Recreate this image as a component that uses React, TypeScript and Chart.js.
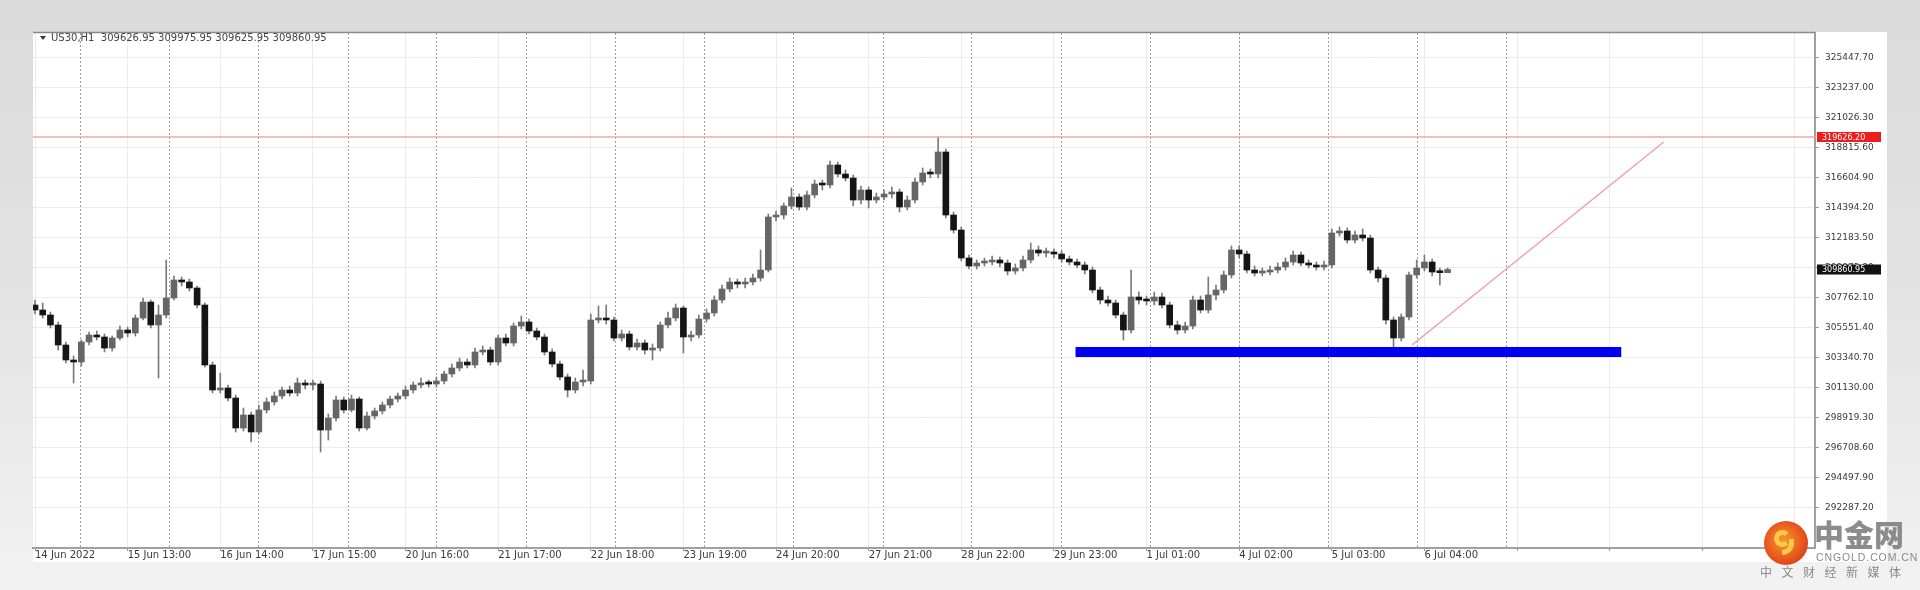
import React, { useEffect, useRef } from "react";
import { Chart, registerables } from "chart.js";

Chart.register(...registerables);

// ---------------- data ----------------
const SYMBOL = "US30,H1";

const X_LABELS = [
  "14 Jun 2022", "15 Jun 13:00", "16 Jun 14:00", "17 Jun 15:00", "20 Jun 16:00",
  "21 Jun 17:00", "22 Jun 18:00", "23 Jun 19:00", "24 Jun 20:00", "27 Jun 21:00",
  "28 Jun 22:00", "29 Jun 23:00", "1 Jul 01:00", "4 Jul 02:00", "5 Jul 03:00", "6 Jul 04:00",
];
const BARS_PER_LABEL = 12;
const X_GRID_COUNT = 20;
const X_MIN = -0.26;
const X_MAX = 230.6;

const Y_TICKS = [
  292287.2, 294497.9, 296708.6, 298919.3, 301130.0, 303340.7, 305551.4, 307762.1,
  309972.8, 312183.5, 314394.2, 316604.9, 318815.6, 321026.3, 323237.0, 325447.7,
];
const Y_MIN = 289339.6;
const Y_MAX = 327289.9;

// day separators (bar index units)
const SEPARATORS = [5.8, 17.4, 28.9, 40.5, 52.0, 63.6, 75.1, 86.7, 98.2, 109.8, 121.3, 132.9, 144.4, 156.0, 167.5, 179.1, 190.6];

const FIRST_OPEN = 307246.3;
const CLOSE = [
  306877.8, 306509.3, 305772.4, 304298.7, 303193.3, 303045.9, 304519.7, 305035.6, 304888.2, 304077.6,
  304814.5, 305404.0, 305182.9, 306288.3, 307467.3, 305772.4, 306509.4, 307762.1, 309088.5, 308941.1,
  308499.0, 307246.3, 302824.9, 300982.6, 301130.0, 300393.1, 298182.4, 299140.3, 297887.6, 299508.8,
  300098.3, 300540.5, 300982.6, 300761.5, 301498.4, 301351.1, 301424.7, 298035.0, 298919.3, 300245.7,
  299508.8, 300319.4, 298182.4, 299066.7, 299435.1, 299877.3, 300319.4, 300540.5, 300982.6, 301351.1,
  301498.4, 301424.7, 301645.8, 302161.6, 302603.8, 303045.9, 302824.9, 303782.8, 303930.2, 303045.9,
  304814.5, 304446.0, 305698.8, 305993.5, 305330.3, 304888.2, 303782.8, 302898.5, 301940.6, 300982.6,
  301572.1, 301645.8, 306140.9, 306288.3, 306140.9, 304814.5, 305109.2, 304151.3, 304446.0, 303930.2,
  304077.6, 305772.4, 306288.3, 307025.2, 304888.2, 305035.6, 306214.6, 306656.7, 307614.7, 308425.3,
  308941.1, 308793.7, 308941.1, 309235.9, 309825.4, 313731.0, 313878.3, 314541.6, 315204.8, 314467.9,
  315352.1, 316162.7, 316089.1, 317562.8, 316899.6, 316604.9, 314983.7, 315720.6, 314983.7, 315204.8,
  315425.8, 315573.2, 314467.9, 314983.7, 316310.1, 316973.3, 316899.6, 318520.8, 313878.3, 312773.0,
  310709.7, 310120.2, 310341.2, 310414.9, 310562.3, 310341.2, 309751.7, 309972.8, 310562.3, 311299.2,
  311078.1, 311151.8, 311004.4, 310636.0, 310414.9, 310193.9, 309825.4, 308351.6, 307614.7, 307393.6,
  306509.4, 305404.0, 307835.8, 307614.7, 307541.0, 307835.8, 307246.3, 305772.4, 305404.0, 305698.8,
  307614.7, 306877.8, 307983.1, 308351.6, 309457.0, 311299.2, 311004.4, 309825.4, 309604.3, 309678.0,
  309825.4, 310046.5, 310414.9, 310930.8, 310341.2, 310193.9, 310046.5, 310193.9, 312551.9, 312699.3,
  312036.1, 312404.6, 312183.5, 309825.4, 309235.9, 306140.9, 304814.5, 306362.0, 309457.0, 309972.8,
  310414.9, 309678.0, 309626.95, 309860.95,
];
const HIGH = [
  307614.7, 307393.6, 306730.4, 305993.5, 304519.7, 303488.1, 304667.1, 305256.6, 305330.3, 305109.2,
  304961.9, 305698.8, 305625.1, 306509.4, 307762.1, 307614.7, 307246.3, 310562.3, 309383.3, 309309.6,
  309162.2, 308646.4, 307393.6, 303045.9, 302235.3, 301351.1, 300614.2, 299656.2, 299361.4, 299877.3,
  300393.1, 300835.2, 301203.7, 301277.4, 301866.9, 301719.5, 301719.5, 301645.8, 299214.0, 300540.5,
  300466.8, 300614.2, 300466.8, 299361.4, 299656.2, 300098.3, 300540.5, 300761.5, 301277.4, 301572.1,
  301866.9, 301719.5, 301940.6, 302382.7, 302898.5, 303340.7, 303267.0, 304077.6, 304225.0, 304151.3,
  305035.6, 305109.2, 305919.8, 306435.7, 306214.6, 305551.4, 305109.2, 304003.9, 303119.6, 302161.6,
  301866.9, 302456.4, 306583.0, 307172.6, 307246.3, 306362.0, 305404.0, 305330.3, 304740.8, 304667.1,
  304372.3, 305993.5, 306730.4, 307319.9, 307172.6, 305330.3, 306509.4, 306951.5, 307909.5, 308720.1,
  309235.9, 309162.2, 309235.9, 309530.6, 311299.2, 313952.0, 314173.1, 314762.6, 315868.0, 315425.8,
  315646.9, 316457.5, 316457.5, 317857.6, 317783.9, 317194.4, 316826.0, 316015.4, 315941.7, 315499.5,
  315720.6, 315941.7, 315794.3, 315278.5, 316604.9, 317341.8, 317268.1, 319626.2, 318741.9, 314099.4,
  312994.1, 310930.8, 310562.3, 310709.7, 310857.1, 310783.4, 310562.3, 310267.5, 310857.1, 311815.0,
  311594.0, 311446.6, 311372.9, 311225.5, 310857.1, 310636.0, 310414.9, 310046.5, 308572.7, 307909.5,
  307614.7, 306730.4, 309825.4, 308204.2, 307909.5, 308204.2, 308130.5, 307467.3, 306067.2, 305993.5,
  307909.5, 307909.5, 309309.6, 308720.1, 309751.7, 311594.0, 311594.0, 311225.5, 310120.2, 309972.8,
  310120.2, 310341.2, 310709.7, 311225.5, 311151.8, 310562.3, 310414.9, 310488.6, 312846.7, 312994.1,
  312920.4, 312699.3, 312846.7, 312404.6, 310046.5, 309457.0, 306362.0, 306583.0, 309678.0, 310562.3,
  310930.8, 310636.0, 309972.8, 309975.95,
];
const LOW = [
  306583.0, 306288.3, 305551.4, 303930.2, 302972.2, 301498.4, 302751.2, 304298.7, 304667.1, 303782.8,
  303856.5, 304667.1, 304888.2, 304961.9, 306140.9, 305551.4, 301866.9, 306288.3, 307614.7, 308646.4,
  308277.9, 307025.2, 302677.5, 300761.5, 300761.5, 300172.0, 297887.6, 297961.3, 297150.7, 297740.2,
  299287.7, 299877.3, 300319.4, 300540.5, 300540.5, 301056.3, 300982.6, 296413.8, 297298.1, 298698.2,
  299287.7, 299361.4, 297961.3, 298035.0, 298845.6, 299214.0, 299656.2, 300098.3, 300319.4, 300761.5,
  301130.0, 301203.7, 301203.7, 301424.7, 301940.6, 302382.7, 302603.8, 302603.8, 303561.8, 302824.9,
  302824.9, 304225.0, 304225.0, 305477.7, 305109.2, 304667.1, 303561.8, 302677.5, 301719.5, 300466.8,
  300761.5, 301277.4, 301424.7, 305919.8, 305846.1, 304593.4, 304593.4, 303930.2, 303930.2, 303635.4,
  303193.3, 303856.5, 305551.4, 306067.2, 303709.1, 304593.4, 304814.5, 305993.5, 306435.7, 307393.6,
  308204.2, 308499.0, 308499.0, 308720.1, 309014.8, 309678.0, 313436.2, 313583.6, 314320.5, 314246.8,
  314246.8, 315131.1, 315720.6, 315868.0, 316678.6, 316383.8, 314541.6, 314688.9, 314394.2, 314762.6,
  314983.7, 315131.1, 314099.4, 314246.8, 314762.6, 316089.1, 316604.9, 316604.9, 313657.3, 312551.9,
  310488.6, 309899.1, 309899.1, 310120.2, 310193.9, 310046.5, 309457.0, 309530.6, 309751.7, 310341.2,
  310857.1, 310783.4, 310709.7, 310414.9, 310193.9, 309972.8, 309530.6, 308130.5, 307319.9, 307172.6,
  306288.3, 304667.1, 305182.9, 307319.9, 307246.3, 307246.3, 307025.2, 305551.4, 305109.2, 305182.9,
  305477.7, 306656.7, 306656.7, 307614.7, 308130.5, 309235.9, 310709.7, 309604.3, 309383.3, 309383.3,
  309457.0, 309604.3, 309825.4, 310193.9, 310120.2, 309972.8, 309825.4, 309825.4, 309972.8, 312330.9,
  311815.0, 311815.0, 311962.4, 309604.3, 308941.1, 305846.1, 304151.3, 304593.4, 306140.9, 309235.9,
  309751.7, 309383.3, 308720.1, 309625.95,
];

// drawn objects
const RESISTANCE = 319626.2;
const SUPPORT = 303782.8;
const SUPPORT_X = [134.8, 205.5];
const TREND_X = [178.4, 211.0];
const TREND_Y = [304298.7, 319257.7];

// ---------------- chart ----------------
const FONT = '"DejaVu Sans", "Liberation Sans", sans-serif';

const openOf = (i: number) => (i === 0 ? FIRST_OPEN : CLOSE[i - 1]);

const decorPlugin = {
  id: "mt4decor",
  beforeDatasetsDraw(chart: any) {
    const { ctx, chartArea: a, scales } = chart;
    const x = scales.x;
    ctx.save();
    ctx.strokeStyle = "#a0a0a0";
    ctx.lineWidth = 1;
    ctx.setLineDash([2, 2]);
    SEPARATORS.forEach((s) => {
      const px = Math.round(x.getPixelForValue(s)) + 0.5;
      ctx.beginPath();
      ctx.moveTo(px, a.top);
      ctx.lineTo(px, a.bottom);
      ctx.stroke();
    });
    ctx.restore();
  },
  afterDraw(chart: any) {
    const { ctx, chartArea: a, scales } = chart;
    const y = scales.y;
    ctx.save();
    // top frame line
    ctx.strokeStyle = "#8a8a8a";
    ctx.lineWidth = 1.5;
    ctx.beginPath();
    ctx.moveTo(a.left, a.top - 0.5);
    ctx.lineTo(a.right, a.top - 0.5);
    ctx.stroke();

    // price boxes on the axis
    const box = (v: number, bg: string) => {
      const py = y.getPixelForValue(v);
      ctx.fillStyle = bg;
      ctx.fillRect(a.right + 2, py - 5, 64, 10);
      ctx.fillStyle = "#ffffff";
      ctx.font = `8px ${FONT}`;
      ctx.textBaseline = "middle";
      ctx.textAlign = "left";
      ctx.fillText(v.toFixed(2), a.right + 7, py + 0.5);
    };
    box(RESISTANCE, "#ee1c1c");
    box(CLOSE[CLOSE.length - 1], "#111111");

    // header
    const n = CLOSE.length - 1;
    ctx.fillStyle = "#333";
    ctx.beginPath();
    ctx.moveTo(40, 36);
    ctx.lineTo(46, 36);
    ctx.lineTo(43, 40);
    ctx.closePath();
    ctx.fill();
    ctx.font = `10px ${FONT}`;
    ctx.textBaseline = "middle";
    ctx.textAlign = "left";
    ctx.fillStyle = "#444";
    ctx.fillText(
      `${SYMBOL}  ${openOf(n).toFixed(2)} ${HIGH[n].toFixed(2)} ${LOW[n].toFixed(2)} ${CLOSE[n].toFixed(2)}`,
      51,
      38
    );
    ctx.restore();
  },
};

function App() {
  const ref = useRef<HTMLCanvasElement | null>(null);

  useEffect(() => {
    if (!ref.current) return;
    const wicks = CLOSE.map((_, i) => ({ x: i, y: [LOW[i], HIGH[i]] }));
    const bodies = CLOSE.map((c, i) => ({ x: i, y: [openOf(i), c] }));
    const bodyColors = CLOSE.map((c, i) => (c >= openOf(i) ? "#666666" : "#151515"));

    const chart = new Chart(ref.current, {
      type: "bar",
      data: {
        datasets: [
          {
            type: "line",
            data: [
              { x: SUPPORT_X[0], y: SUPPORT },
              { x: SUPPORT_X[1], y: SUPPORT },
            ],
            borderColor: "#0000f5",
            borderWidth: 10,
            borderCapStyle: "butt",
            pointRadius: 0,
            order: 0,
          } as any,
          {
            type: "line",
            data: [
              { x: TREND_X[0], y: TREND_Y[0] },
              { x: TREND_X[1], y: TREND_Y[1] },
            ],
            borderColor: "#f3a0a0",
            borderWidth: 1.5,
            pointRadius: 0,
            order: 1,
          } as any,
          {
            type: "line",
            data: [
              { x: X_MIN, y: RESISTANCE },
              { x: X_MAX, y: RESISTANCE },
            ],
            borderColor: "#f5a5a5",
            borderWidth: 1.5,
            pointRadius: 0,
            order: 1,
          } as any,
          {
            type: "bar",
            data: bodies,
            backgroundColor: bodyColors,
            borderWidth: 0,
            barThickness: 6,
            minBarLength: 2,
            grouped: false,
            order: 2,
          } as any,
          {
            type: "bar",
            data: wicks,
            backgroundColor: "#7a7a7a",
            borderWidth: 0,
            barThickness: 1,
            grouped: false,
            order: 3,
          } as any,
        ],
      },
      options: {
        responsive: false,
        animation: false,
        devicePixelRatio: 1,
        events: [],
        layout: { padding: { left: 33, top: 33, right: 33, bottom: 25 } },
        plugins: { legend: { display: false }, tooltip: { enabled: false } },
        scales: {
          x: {
            type: "linear",
            min: X_MIN,
            max: X_MAX,
            offset: false,
            grid: {
              offset: false,
              color: "#ececec",
              lineWidth: 1,
              drawTicks: true,
              tickLength: 3,
              tickColor: "#999",
            },
            border: { display: true, color: "#a0a0a0", width: 2 },
            afterBuildTicks: (scale: any) => {
              scale.ticks = Array.from({ length: X_GRID_COUNT }, (_, k) => ({ value: k * BARS_PER_LABEL }));
            },
            afterFit: (scale: any) => {
              scale.height = 17;
            },
            ticks: {
              autoSkip: false,
              maxRotation: 0,
              minRotation: 0,
              align: "start",
              padding: -2,
              color: "#3a3a3a",
              font: { family: FONT, size: 10 },
              callback: (_v: any, idx: number) => X_LABELS[idx] ?? "",
            },
          } as any,
          y: {
            type: "linear",
            position: "right",
            min: Y_MIN,
            max: Y_MAX,
            grid: {
              color: "#ececec",
              lineWidth: 1,
              drawTicks: true,
              tickLength: 4,
              tickColor: "#999",
            },
            border: { display: true, color: "#a0a0a0", width: 2 },
            afterBuildTicks: (scale: any) => {
              scale.ticks = Y_TICKS.map((v) => ({ value: v }));
            },
            afterFit: (scale: any) => {
              scale.width = 72;
            },
            ticks: {
              padding: 6,
              color: "#3a3a3a",
              font: { family: FONT, size: 9 },
              callback: (v: any) => Number(v).toFixed(2),
            },
          } as any,
        },
      } as any,
      plugins: [decorPlugin],
    });
    return () => chart.destroy();
  }, []);

  return (
    <div
      style={{
        position: "absolute",
        left: 0,
        top: 0,
        width: 1920,
        height: 590,
        overflow: "hidden",
        background: "linear-gradient(180deg, #dadada 0px, #e3e3e3 300px, #f2f2f2 590px)",
      }}
    >
      <div
        style={{
          position: "absolute",
          left: 33,
          top: 32,
          width: 1854,
          height: 530,
          background: "#ffffff",
        }}
      />
      <canvas
        ref={ref}
        width={1920}
        height={590}
        style={{ position: "absolute", left: 0, top: 0, width: 1920, height: 590 }}
      />
      {/* watermark */}
      <div
        style={{
          position: "absolute",
          left: 1814,
          top: 516,
          fontFamily: '"Noto Sans CJK SC", sans-serif',
          fontWeight: 900,
          fontSize: 30,
          lineHeight: "34px",
          color: "rgba(120,120,120,0.85)",
          whiteSpace: "nowrap",
        }}
      >
        中金网
      </div>
      <div
        style={{
          position: "absolute",
          left: 1764,
          top: 521,
          width: 44,
          height: 44,
          borderRadius: "50%",
          background: "radial-gradient(circle at 45% 45%, #f59b2a 0%, #e8561f 55%, #c9261a 100%)",
        }}
      >
        <div
          style={{
            position: "absolute",
            left: 10,
            top: 9,
            width: 17,
            height: 17,
            borderRadius: "50%",
            border: "5px solid #f9c94a",
            borderRightColor: "transparent",
            boxSizing: "border-box",
          }}
        />
        <div
          style={{
            position: "absolute",
            left: 18,
            top: 18,
            width: 12,
            height: 16,
            borderRadius: "0 0 12px 0",
            borderRight: "5px solid #f9c94a",
            borderBottom: "5px solid #f9c94a",
            boxSizing: "border-box",
          }}
        />
      </div>
      <div
        style={{
          position: "absolute",
          left: 1816,
          top: 551,
          fontFamily: '"Liberation Sans", Arial, sans-serif',
          fontSize: 10.5,
          lineHeight: "12px",
          letterSpacing: 0.9,
          color: "#8a8a8a",
          whiteSpace: "nowrap",
        }}
      >
        CNGOLD.COM.CN
      </div>
      <div
        style={{
          position: "absolute",
          left: 1760,
          top: 565,
          fontFamily: '"Noto Sans CJK SC", sans-serif',
          fontSize: 12,
          lineHeight: "14px",
          letterSpacing: 9.5,
          color: "#8a8a8a",
          whiteSpace: "nowrap",
        }}
      >
        中文财经新媒体
      </div>
    </div>
  );
}

export default App;
